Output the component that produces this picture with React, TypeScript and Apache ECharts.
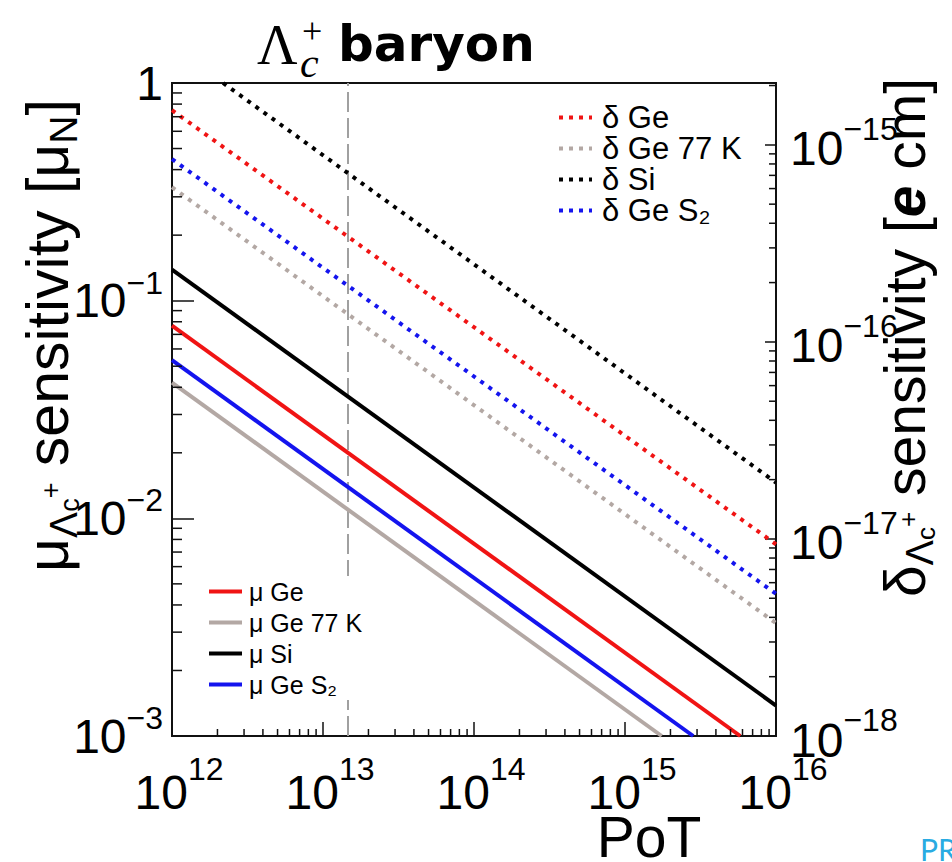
import React, { useEffect, useRef } from 'react';
import * as echarts from 'echarts';

const FONT = '"Liberation Sans", Arial, Helvetica, sans-serif';
const SERIF = '"Liberation Serif", "Times New Roman", serif';

// Axis extents
const potExtent = [1e12, 1e16];
const muExtent = [1e-3, 1];
const deltaExtent = [1e-18, 2.06e-15];

// Decades used for minor tick generation
const potDecades = [1e12, 1e13, 1e14, 1e15];
const muDecades = [1e-3, 1e-2, 1e-1];
const deltaDecades = [1e-18, 1e-17, 1e-16, 1e-15];
const minorMantissas = [2, 3, 4, 5, 6, 7, 8, 9];

// Series: [PoT, sensitivity] end points
const muGe = [[1e12, 0.0767], [5.8e15, 0.001]];
const muGe77 = [[1e12, 0.042], [1.75e15, 0.001]];
const muSi = [[1e12, 0.139], [1e16, 0.00138]];
const muGeS2 = [[1e12, 0.0533], [2.83e15, 0.001]];
const dGe = [[1e12, 0.75], [1e16, 0.0076]];
const dGe77 = [[1e12, 0.332], [1e16, 0.0033]];
const dSi = [[2.18e12, 1], [1e16, 0.0146]];
const dGeS2 = [[1e12, 0.447], [1e16, 0.0045]];

const referencePoT = [1.45e13];

const muNames = ['μ Ge', 'μ Ge 77 K', 'μ Si', 'μ Ge S₂'];
const deltaNames = ['δ Ge', 'δ Ge 77 K', 'δ Si', 'δ Ge S₂'];

const RED = '#f01414';
const BLUE = '#1414ee';
const GRAY = '#b3a8a4';
const BLACK = '#000000';

function minors(decades: number[], max: number) {
  const out: number[] = [];
  decades.forEach((d) => minorMantissas.forEach((m) => {
    const v = m * d;
    if (v <= max * 1.0001) out.push(v);
  }));
  return out;
}

function powLabel(v: number, kind: string) {
  const e = Math.log10(v);
  const r = Math.round(e);
  if (Math.abs(e - r) > 1e-6) return '';
  if (r === 0) return `{${kind}b|1}`;
  const exp = r < 0 ? '\u2212' + Math.abs(r) : String(r);
  return `{${kind}b|10}{${kind}s|${exp}}`;
}

const tickStyle = { color: '#111', width: 1.5 };

function tickSeries(data: number[][], yAxisIndex: number, dx: number, dy: number) {
  return {
    type: 'custom',
    silent: true,
    yAxisIndex,
    clip: false,
    z: 5,
    data,
    renderItem: (_p: any, api: any) => {
      const p = api.coord([api.value(0), api.value(1)]);
      return {
        type: 'line',
        shape: { x1: p[0], y1: p[1], x2: p[0] + dx, y2: p[1] + dy },
        style: { stroke: '#111', lineWidth: 1.5 },
      };
    },
  };
}

function lineSeries(name: string, data: number[][], color: string, dotted: boolean) {
  return {
    name,
    type: 'line',
    data,
    symbol: 'none',
    showSymbol: false,
    silent: true,
    z: 3,
    itemStyle: { color },
    lineStyle: { color, width: 4, type: dotted ? [4, 6] : 'solid', cap: 'butt' },
  };
}

function titleRich(size: number) {
  const L = Math.round(size * 1.1);
  const sub = Math.round(size * 0.66);
  const subsub = Math.round(size * 0.45);
  const base = { fontFamily: FONT, color: '#000' };
  return {
    m: { ...base, fontSize: size, lineHeight: L, verticalAlign: 'top' },
    e: { ...base, fontSize: size, lineHeight: L, verticalAlign: 'top', fontStyle: 'italic', fontWeight: 'bold' },
    s: { ...base, fontSize: sub, lineHeight: sub, verticalAlign: 'bottom' },
    ss: { ...base, fontSize: subsub, lineHeight: subsub, verticalAlign: 'bottom' },
    sp: { ...base, fontSize: subsub, lineHeight: subsub, verticalAlign: 'middle' },
  };
}

export default function App() {
  const ref = useRef<HTMLDivElement>(null);

  useEffect(() => {
    if (!ref.current) return;
    const chart = echarts.init(ref.current, undefined, { renderer: 'svg' });

    const labelBase = { fontFamily: FONT, color: '#000', verticalAlign: 'top' };
    const option: any = {
      animation: false,
      grid: {
        left: 172, right: 176, top: 83, bottom: 126,
        outerBoundsMode: 'none', containLabel: false,
        show: true, borderColor: '#111', borderWidth: 2, backgroundColor: 'transparent',
      },
      xAxis: [{
        type: 'log', logBase: 10, min: potExtent[0], max: potExtent[1],
        axisLine: { show: false }, splitLine: { show: false },
        axisTick: { show: true, inside: true, length: 14, lineStyle: tickStyle },
        axisLabel: {
          margin: 17,
          formatter: (v: number) => powLabel(v, 'x'),
          rich: {
            xb: { ...labelBase, fontSize: 48, lineHeight: 63, padding: [15, 0, 0, 14] },
            xs: { ...labelBase, fontSize: 32, lineHeight: 32 },
          },
        },
        name: 'PoT', nameLocation: 'middle', nameGap: 81, nameMoveOverlap: false,
        nameTextStyle: { fontFamily: FONT, fontSize: 57, lineHeight: 40, color: '#000', padding: [0, 0, 0, 350] },
      }],
      yAxis: [{
        type: 'log', logBase: 10, min: muExtent[0], max: muExtent[1], position: 'left',
        axisLine: { show: false }, splitLine: { show: false },
        axisTick: { show: true, inside: true, length: 22, lineStyle: tickStyle },
        axisLabel: {
          margin: 9,
          formatter: (v: number) => powLabel(v, 'l'),
          rich: {
            lb: { ...labelBase, fontSize: 48, lineHeight: 68, padding: [10, 0, 10, 0] },
            ls: { ...labelBase, fontSize: 32, lineHeight: 32 },
          },
        },
        name: '{m|μ}{s|Λ}{ss|c}{sp|+}{m| sensitivity [μ}{s|N}{m|]}',
        nameLocation: 'middle', nameRotate: 90, nameGap: 89, nameMoveOverlap: false,
        nameTextStyle: { fontFamily: FONT, color: '#000', padding: [0, 0, 0, 148], rich: titleRich(59) },
      }, {
        type: 'log', logBase: 10, min: deltaExtent[0], max: deltaExtent[1], position: 'right',
        axisLine: { show: false }, splitLine: { show: false },
        axisTick: { show: true, inside: true, length: 11, lineStyle: tickStyle },
        axisLabel: {
          margin: 14,
          formatter: (v: number) => powLabel(v, 'r'),
          rich: {
            rb: { ...labelBase, fontSize: 48, lineHeight: 68, padding: [14, 0, 6, 0] },
            rs: { ...labelBase, fontSize: 32, lineHeight: 32, padding: [2, 0, 0, 0] },
          },
        },
        name: '{m|δ}{s|Λ}{ss|c}{sp|+}{m| sensitivity [}{e|e}{m| cm]}',
        nameLocation: 'middle', nameRotate: 90, nameGap: 100, nameMoveOverlap: false,
        nameTextStyle: { fontFamily: FONT, color: '#000', padding: [0, 0, 0, 144], rich: titleRich(57) },
      }],
      legend: [{
        data: deltaNames, orient: 'vertical', left: 557, top: 102, padding: 0,
        itemWidth: 33, itemHeight: 14, itemGap: 0, selectedMode: false,
        itemStyle: { opacity: 0 }, lineStyle: { width: 4 },
        textStyle: { fontFamily: FONT, fontSize: 31, color: '#000', padding: [0, 0, 0, 5] },
      }, {
        data: muNames, orient: 'vertical', left: 195, top: 576, padding: [3, 12, 3, 12],
        backgroundColor: '#ffffff',
        itemWidth: 33, itemHeight: 14, itemGap: 6, selectedMode: false,
        itemStyle: { opacity: 0 }, lineStyle: { width: 4 },
        textStyle: { fontFamily: FONT, fontSize: 25, color: '#000', padding: [0, 0, 0, 2] },
      }],
      graphic: [
        { type: 'text', x: 257, y: 45, style: { text: 'Λ', fontFamily: SERIF, fontSize: 56, fill: '#000', verticalAlign: 'middle' } },
        { type: 'text', x: 302, y: 31, style: { text: '+', fontFamily: SERIF, fontSize: 36, fill: '#000', verticalAlign: 'middle' } },
        { type: 'text', x: 300, y: 63, style: { text: 'c', fontFamily: SERIF, fontStyle: 'italic', fontSize: 42, fill: '#000', verticalAlign: 'middle' } },
        { type: 'text', x: 338, y: 44, style: { text: 'baryon', fontFamily: '"DejaVu Sans", sans-serif', fontWeight: 'bold', fontSize: 50, fill: '#000', verticalAlign: 'middle' } },
        { type: 'text', x: 920, y: 849, style: { text: 'PR', fontFamily: 'Lato, "Open Sans", sans-serif', fontSize: 30, fill: '#29abe2', verticalAlign: 'middle' } },
      ],
      series: [
        {
          ...lineSeries(deltaNames[2], dSi, BLACK, true),
          markLine: {
            silent: true, symbol: ['none', 'none'], label: { show: false }, z: 1,
            lineStyle: { color: '#a0a0a0', width: 2, type: [20, 6] },
            data: referencePoT.map((v) => ({ xAxis: v })),
          },
        },
        lineSeries(deltaNames[0], dGe, RED, true),
        lineSeries(deltaNames[3], dGeS2, BLUE, true),
        lineSeries(deltaNames[1], dGe77, GRAY, true),
        lineSeries(muNames[2], muSi, BLACK, false),
        lineSeries(muNames[0], muGe, RED, false),
        lineSeries(muNames[3], muGeS2, BLUE, false),
        lineSeries(muNames[1], muGe77, GRAY, false),
        tickSeries(minors(potDecades, potExtent[1]).map((v) => [v, muExtent[0]]), 0, 0, -7),
        tickSeries(minors(muDecades, muExtent[1]).map((v) => [potExtent[0], v]), 0, 10, 0),
        tickSeries(minors(deltaDecades, deltaExtent[1]).map((v) => [potExtent[1], v]), 1, -7, 0),
      ],
    };

    chart.setOption(option);
    return () => chart.dispose();
  }, []);

  return (
    <div
      ref={ref}
      style={{ position: 'absolute', left: 0, top: 0, width: 952, height: 862, background: '#fff' }}
    />
  );
}
